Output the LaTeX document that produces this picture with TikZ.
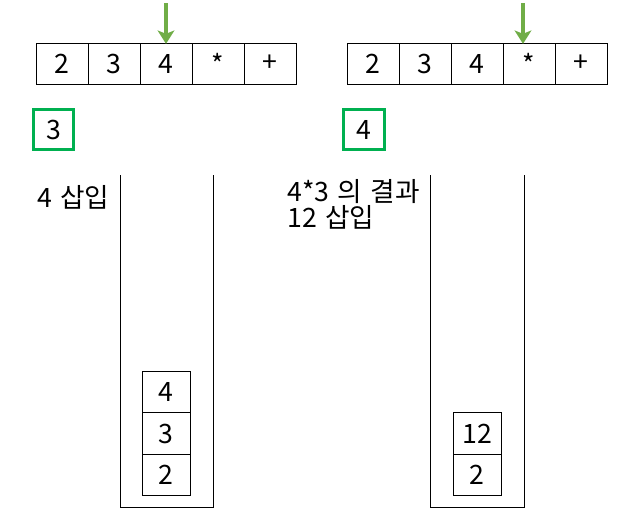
\documentclass[tikz,border=0pt]{standalone}
\usepackage{fontspec}
\setmainfont{Noto Sans CJK KR}[WordSpace=1.4]
\usetikzlibrary{arrows.meta}
\usetikzlibrary{positioning}

\definecolor{markgreen}{HTML}{00B050}
\definecolor{pointgreen}{HTML}{70AD47}

\tikzset{
    cellbox/.style={draw, line width=0.75pt, minimum width=39pt, minimum height=30.75pt, inner sep=0pt, font=\fontsize{20}{24}\selectfont},
    stackbox/.style={draw, fill=white, line width=0.75pt, minimum width=36pt, minimum height=31pt, inner sep=0pt, font=\fontsize{20}{24}\selectfont},
    markbox/.style={draw=markgreen, line width=2.25pt, minimum width=30.5pt, minimum height=29.5pt, inner sep=0pt, font=\fontsize{20}{24}\selectfont},
    pointer/.style={-{Stealth[length=10pt, width=12.5pt, inset=2.5pt]}, draw=pointgreen, line width=3.2pt, shorten >=-1pt},
    note/.style={anchor=base west, inner sep=0pt, font=\fontsize{20}{24}\selectfont}
}

\begin{document}
\begin{tikzpicture}[x=0.75pt, y=-0.75pt]

    \useasboundingbox (0, 0) rectangle (635, 519);

    % Make the two input arrays
    \foreach \t [count=\i] in {2,3,4,*,+}{
        \node[cellbox] (left\i) at (10 + 52*\i, 63.5) {\t};
        \node[cellbox] (right\i) at (321 + 52*\i, 63.5) {\t};
    }

    % Pointers to the current token
    \coordinate (leftTop) at (166, 3);
    \coordinate (rightTop) at (523, 3);
    \draw[pointer] (leftTop) -- (leftTop |- left3.north);
    \draw[pointer] (rightTop) -- (rightTop |- right4.north);

    % Current values
    \node[markbox] (leftMark) at (53.5, 129.5) {3};
    \node[markbox] (rightMark) at (364, 129.5) {4};

    % The stacks
    \draw[line width=0.75pt] (120, 175)--(120, 507)--(213, 507)--(213, 175);
    \draw[line width=0.75pt] (430, 175)--(430, 507)--(524, 507)--(524, 175);

    \foreach \t [count=\i] in {2,3,4}{
        \node[stackbox] (leftStack\i) at (166, 516.5 - 41.5*\i) {\t};
    }
    \node[stackbox] (rightStack1) at (477, 475) {2};
    \node[stackbox] (rightStack2) at (477, 433.5) {12};

    % Notes
    \node[note] (leftNote) at (37, 207) {4 삽입};
    \node[note] (rightNoteA) at (287, 201) {4*3 의 결과};
    \node[note] (rightNoteB) at (287, 227) {12 삽입};

\end{tikzpicture}
\end{document}
